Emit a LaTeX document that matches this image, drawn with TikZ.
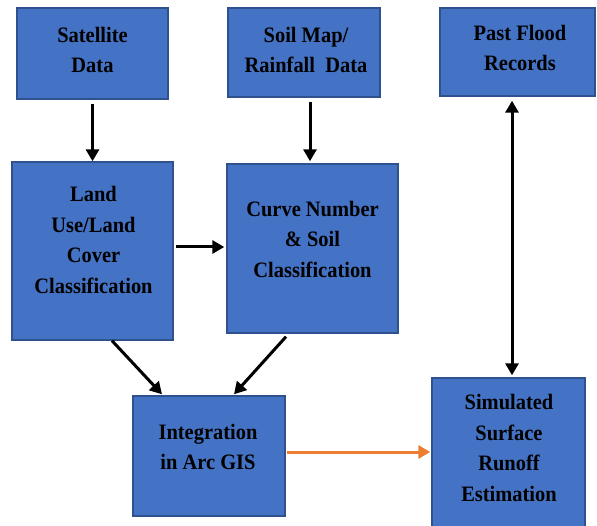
\documentclass[tikz,border=0pt]{standalone}
\usepackage{fontspec}
\setmainfont{Liberation Serif}[FakeStretch=0.93]
\usetikzlibrary{arrows.meta}
\definecolor{boxfill}{HTML}{4472C4}
\definecolor{boxedge}{HTML}{2F528F}
\definecolor{flowor}{HTML}{ED7D31}
\begin{document}
\begin{tikzpicture}[x=1pt,y=-1pt,
  box/.style={draw=boxedge, fill=boxfill, line width=1.4pt, inner sep=0pt},
  lbl/.style={font=\fontsize{22}{30.5}\selectfont\bfseries, align=center, text=black, inner sep=0pt},
  arr/.style={line width=3pt, -{Triangle[length=12pt,width=13pt]}},
  dblarr/.style={line width=3pt, {Triangle[length=12pt,width=13pt]}-{Triangle[length=12pt,width=13pt]}},
  orarr/.style={draw=flowor, line width=3pt, -{Triangle[length=12pt,width=13pt]}}]
\useasboundingbox (0,0) rectangle (597,526);

% boxes
\node[box, minimum width=151pt, minimum height=91pt]  (sat)   at (92.5,53.5) {};
\node[box, minimum width=152pt, minimum height=89pt]  (soil)  at (304,52.5) {};
\node[box, minimum width=155pt, minimum height=88pt]  (past)  at (517.5,52) {};
\node[box, minimum width=161pt, minimum height=178pt] (land)  at (92.5,251) {};
\node[box, minimum width=171pt, minimum height=169pt] (curve) at (312.5,248.5) {};
\node[box, minimum width=152pt, minimum height=120pt] (integ) at (209,456) {};
\node[box, minimum width=153pt, minimum height=156pt] (sim)   at (508.5,456) {};

% labels
\node[lbl] (tsat)   at (92.5,50)  {Satellite\\Data};
\node[lbl] (tsoil)  at (306,50)   {Soil Map/\\Rainfall\ \ Data};
\node[lbl] (tpast)  at (520,48)   {Past Flood\\Records};
\node[lbl] (tland)  at (93.5,240) {Land\\Use/Land\\Cover\\Classification};
\node[lbl] (tcurve) at (312.5,239){Curve Number\\\& Soil\\Classification};
\node[lbl] (tinteg) at (208,447)  {Integration\\in Arc GIS};
\node[lbl] (tsim)   at (509,448)  {Simulated\\Surface\\Runoff\\Estimation};

% connectors
\draw[arr] ([yshift=-4pt]sat.south) -- (land.north);
\draw[arr] ([xshift=6pt,yshift=-4pt]soil.south) -- ([xshift=-2.5pt,yshift=2pt]curve.north);
\draw[arr] ([xshift=2pt,yshift=4pt]land.east) -- ([xshift=-2pt,yshift=1.5pt]curve.west);
\draw[arr] ([xshift=19.5pt]land.south) -- ([xshift=-47pt,yshift=1pt]integ.north);
\draw[arr] ([xshift=-26.5pt,yshift=-3pt]curve.south) -- ([xshift=25pt,yshift=1pt]integ.north);
\draw[dblarr] ([xshift=-5.5pt,yshift=-4pt]past.south) -- ([xshift=3.5pt,yshift=2pt]sim.north);
\draw[orarr] ([xshift=1pt,yshift=4pt]integ.east) -- ([xshift=-1pt,yshift=4pt]sim.west);
\end{tikzpicture}
\end{document}
